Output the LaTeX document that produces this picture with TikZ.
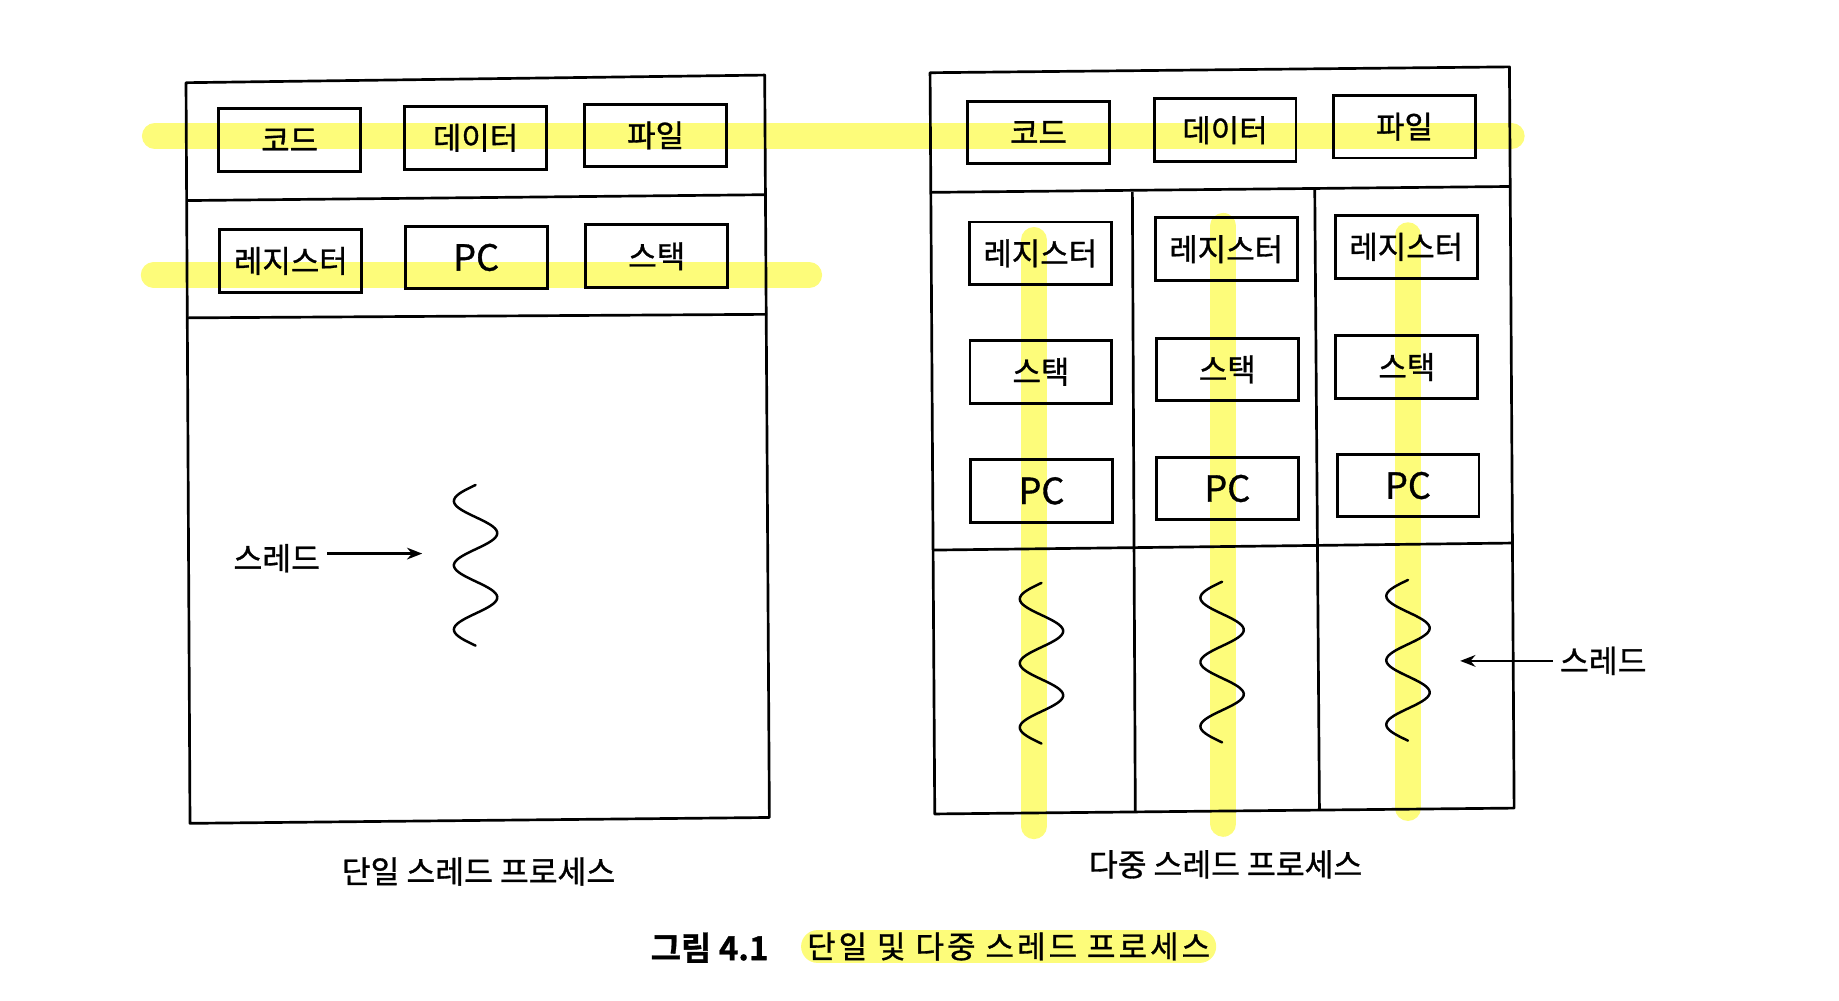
\documentclass[tikz,border=0pt]{standalone}
\usepackage{fontspec}
\setmainfont{Noto Sans CJK KR}[BoldFont={Noto Sans CJK KR Bold}, FakeBold=1]
\newfontfamily\capfont{Noto Sans CJK KR}[LetterSpace=10, FakeBold=1]
\usetikzlibrary{arrows.meta}
\definecolor{hlyellow}{RGB}{253,252,122}

\begin{document}
\begin{tikzpicture}[x=0.02cm, y=-0.02cm,
        procframe/.style={line width=1.3pt, line join=round},
        part/.style={draw, line width=1.4pt, minimum width=2.42cm, minimum height=1.07cm, inner sep=0pt, font=\fontsize{15}{18}\selectfont},
        pcpart/.style={part, font=\fontsize{17.5}{20}\selectfont},
        lbl/.style={font=\fontsize{15.2}{18}\selectfont},
        thread/.style={line width=1.2pt, line cap=round},
        hilite/.style={draw=hlyellow, line width=12.5pt, line cap=round},
        pointer/.style={line width=1.1pt, -{Stealth[length=0.26cm, width=0.2cm]}}]
        \useasboundingbox (0,0) rectangle (1568,853);
        \draw[hilite] (132,116) -- (1289,116);
        \draw[hilite] (131,234.5) -- (690,234.5);
        \draw[hilite] (881.5,204.5) -- (881.5,704.5);
        \draw[hilite] (1043,192.5) -- (1043,702.5);
        \draw[hilite] (1200.5,200.5) -- (1200.5,689);
        \node[fill=hlyellow, rounded corners=0.28cm, minimum width=7.08cm, minimum height=0.56cm, inner sep=0pt, font=\capfont\fontsize{15}{18}\selectfont] (capB) at (860,807) {단일 및 다중 스레드 프로세스};
        \node[font=\bfseries\fontsize{16}{19}\selectfont] (capA) at (605,808) {그림 4.1};

        \draw[procframe] (158.6,70.5) -- (652,64) -- (656,697) -- (162,702) -- cycle;
        \draw[procframe] (159,171) -- (653,166);
        \draw[procframe] (160,271) -- (654,268);
        \node[part] (codeS) at (247,119.5) {코드};
        \node[part] (dataS) at (405.5,117.5) {데이터};
        \node[part] (fileS) at (559,115.5) {파일};
        \node[part] (regS) at (248,222.5) {레지스터};
        \node[pcpart] (pcS) at (406,219.5) {PC};
        \node[part] (stackS) at (560,218.5) {스택};
        \draw[thread] plot[domain=0:900, samples=90, smooth] ({405.5-18.5*sin(\x)}, {413.5+\x*0.1522});
        \node[lbl] (threadS) at (236,476) {스레드};
        \coordinate (tipS) at (360,472);
        \draw[pointer] (threadS.east |- tipS) -- (tipS);
        \node[lbl] (nameS) at (408,743) {단일 스레드 프로세스};

        \draw[procframe] (793,62) -- (1287,57) -- (1291,689) -- (797,694) -- cycle;
        \draw[procframe] (794,164) -- (1287,159);
        \draw[procframe] (796,469) -- (1290,463);
        \draw[procframe] (965.5,163.5) -- (968,692);
        \draw[procframe] (1121,160) -- (1125,690);
        \node[part] (codeM) at (885.5,113) {코드};
        \node[part] (dataM) at (1044.5,111) {데이터};
        \node[part] (fileM) at (1197.5,108) {파일};
        \node[part] (regA) at (887,216) {레지스터};
        \node[part] (stackA) at (887.5,317) {스택};
        \node[pcpart] (pcA) at (888,418.5) {PC};
        \node[part] (regB) at (1045.5,212.5) {레지스터};
        \node[part] (stackB) at (1046.5,315) {스택};
        \node[pcpart] (pcB) at (1046.5,416.5) {PC};
        \node[part] (regC) at (1199,210.5) {레지스터};
        \node[part] (stackC) at (1199.5,313) {스택};
        \node[pcpart] (pcC) at (1200.5,414) {PC};
        \draw[thread] plot[domain=0:900, samples=90, smooth] ({888-18.5*sin(\x)}, {497+\x*0.1522});
        \draw[thread] plot[domain=0:900, samples=90, smooth] ({1042-18.5*sin(\x)}, {496+\x*0.1522});
        \draw[thread] plot[domain=0:900, samples=90, smooth] ({1200.5-18.5*sin(\x)}, {494.5+\x*0.1522});
        \node[lbl] (threadM) at (1367,563.5) {스레드};
        \coordinate (tipM) at (1245,563.5);
        \draw[pointer] (threadM.west) -- (tipM);
        \node[lbl] (nameM) at (1045,737) {다중 스레드 프로세스};
\end{tikzpicture}
\end{document}
